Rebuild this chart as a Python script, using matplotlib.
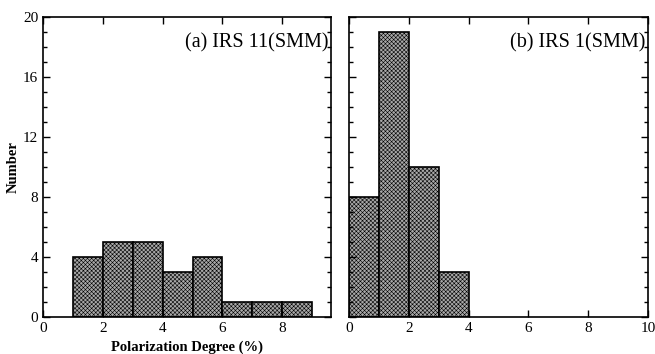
import matplotlib
matplotlib.use('Agg')
import matplotlib.pyplot as plt
import matplotlib.ticker as ticker

plt.rcParams['font.family'] = ['Liberation Serif', 'DejaVu Serif']
plt.rcParams['hatch.linewidth'] = 0.4
plt.rcParams['hatch.color'] = '#3a3a3a'

# histogram bins (left edges) and counts
bins_a = [1, 2, 3, 4, 5, 6, 7, 8]
counts_a = [4, 5, 5, 3, 4, 1, 1, 1]
bins_b = [0, 1, 2, 3]
counts_b = [8, 19, 10, 3]
label_a = "(a) IRS 11(SMM)"
label_b = "(b) IRS 1(SMM)"

fig = plt.figure(figsize=(6.55, 3.54), dpi=100)
W, H = 655.0, 354.0
ax1 = fig.add_axes([43 / W, 1 - 317 / H, (331 - 43) / W, 300 / H])
ax2 = fig.add_axes([349 / W, 1 - 317 / H, (648 - 349) / W, 300 / H])

for ax, bins, counts, lab in [(ax1, bins_a, counts_a, label_a),
                              (ax2, bins_b, counts_b, label_b)]:
    ax.bar(bins, counts, width=1, align='edge', facecolor='#a8a8a8',
           edgecolor='black', linewidth=1.2, hatch='xxxxxxxx')
    ax.set_ylim(0, 20)
    ax.yaxis.set_major_locator(ticker.MultipleLocator(4))
    ax.yaxis.set_minor_locator(ticker.MultipleLocator(1))
    ax.xaxis.set_major_locator(ticker.MultipleLocator(2))
    ax.tick_params(which='both', direction='in', top=True, right=True,
                   labelsize=11, width=1)
    ax.tick_params(which='major', length=5)
    ax.tick_params(which='minor', length=3)
    for s in ax.spines.values():
        s.set_linewidth(1.2)
    ax.text(0.99, 0.915, lab, transform=ax.transAxes, ha='right', va='center',
            fontsize=14.5)

ax1.set_xlim(0, 9.63)
ax2.set_xlim(0, 10)
ax2.tick_params(labelleft=False)
ax1.set_ylabel("Number", fontweight='bold', fontsize=10.5, labelpad=2)
ax1.set_xlabel("Polarization Degree (%)", fontweight='bold', fontsize=10.5,
               labelpad=4)

plt.savefig("out.png", dpi=100)
